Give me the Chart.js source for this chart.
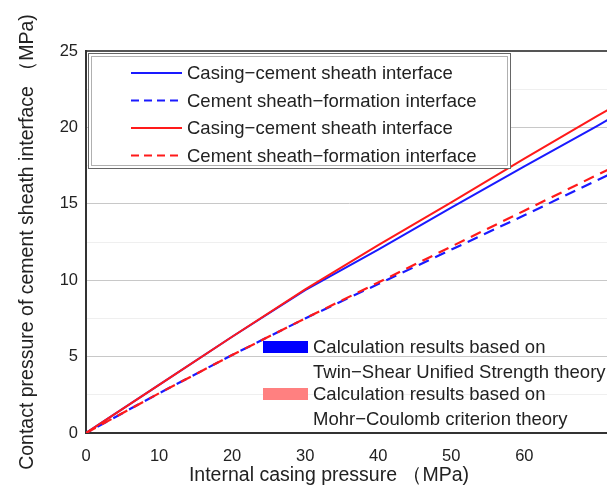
<!DOCTYPE html>
<html>
<head>
<meta charset="utf-8">
<script src="https://cdn.jsdelivr.net/npm/chart.js@4/dist/chart.umd.min.js"></script>
<style>
  html, body { margin: 0; padding: 0; background: #fff; overflow: hidden; }
  #wrap { position: relative; width: 620px; height: 488px; }
</style>
</head>
<body>
<div id="wrap"><canvas id="pressureChart"></canvas></div>
<script>
// internal casing pressure (MPa)
const pressure = [0, 10, 20, 30, 40, 50, 60, 70, 72];
// twin-shear unified strength theory (blue)
const twinCasingCement = [0, 3.15, 6.3, 9.35, 12.0, 14.75, 17.45, 20.1, 20.65];
const twinCementFormation = [0, 2.6, 5.1, 7.5, 9.75, 12.0, 14.25, 16.55, 17.0];
// mohr-coulomb criterion theory (red)
const mcCasingCement = [0, 3.15, 6.3, 9.4, 12.3, 15.1, 17.95, 20.75, 21.3];
const mcCementFormation = [0, 2.6, 5.1, 7.5, 9.85, 12.2, 14.55, 16.9, 17.35];

const yTicks = [0, 5, 10, 15, 20, 25];

const lineLabels = ['Casing\u2212cement sheath interface', 'Cement sheath\u2212formation interface'];
const theoryLabels = [
  ['Calculation results based on', 'Twin\u2212Shear Unified Strength theory'],
  ['Calculation results based on', 'Mohr\u2212Coulomb criterion theory']
];

const BLUE = '#1a1aff';
const RED = '#ff1a1a';
const FONT = '"Liberation Sans", Arial, sans-serif';

function toPoints(ys) {
  return pressure.map((x, i) => ({ x: x, y: ys[i] }));
}

// legends + x title drawn on top
const legendPlugin = {
  id: 'customLegend',
  afterDraw(chart) {
    const ctx = chart.ctx;
    const area = chart.chartArea;
    ctx.save();

    // upper box legend
    const bx = area.left + 2, by = area.top + 2, bw = 422, bh = 115;
    ctx.fillStyle = '#fff';
    ctx.fillRect(bx, by, bw, bh);
    ctx.strokeStyle = '#666';
    ctx.lineWidth = 1;
    ctx.strokeRect(bx + 0.5, by + 0.5, bw, bh);
    ctx.strokeStyle = '#b0b0b0';
    ctx.strokeRect(bx + 3.5, by + 3.5, bw - 6, bh - 6);

    const rows = [
      { color: BLUE, dash: [], text: lineLabels[0] },
      { color: BLUE, dash: [8, 5], text: lineLabels[1] },
      { color: RED, dash: [], text: lineLabels[0] },
      { color: RED, dash: [8, 5], text: lineLabels[1] }
    ];
    ctx.font = '18.5px ' + FONT;
    ctx.textBaseline = 'middle';
    ctx.textAlign = 'left';
    rows.forEach((r, i) => {
      const y = by + 20 + i * 27.5;
      ctx.strokeStyle = r.color;
      ctx.lineWidth = 2;
      ctx.setLineDash(r.dash);
      ctx.beginPath();
      ctx.moveTo(bx + 43, y);
      ctx.lineTo(bx + 94, y);
      ctx.stroke();
      ctx.setLineDash([]);
      ctx.fillStyle = '#222';
      ctx.fillText(r.text, bx + 99, y + 1);
    });

    // lower theory legend
    const colors = ['#0000ff', '#ff8080'];
    const lx = area.left + 177;
    theoryLabels.forEach((lines, i) => {
      const top = area.top + 290 + i * 47;
      ctx.fillStyle = colors[i];
      ctx.fillRect(lx, top, 45, 12);
      ctx.fillStyle = '#222';
      ctx.fillText(lines[0], lx + 50, top + 7);
      ctx.fillText(lines[1], lx + 50, top + 32);
    });

    // x axis title
    ctx.font = '19.5px ' + FONT;
    ctx.textAlign = 'center';
    ctx.fillStyle = '#222';
    ctx.fillText('Internal casing pressure \uFF08MPa)', area.left + 243, 476);
    ctx.restore();
  }
};

const ctx = document.getElementById('pressureChart').getContext('2d');

const contactChart = new Chart(ctx, {
  type: 'line',
  data: {
    datasets: [
      { data: toPoints(mcCasingCement), borderColor: RED, borderWidth: 2, order: 1 },
      { data: toPoints(mcCementFormation), borderColor: RED, borderWidth: 2.2, borderDash: [11, 7], order: 2 },
      { data: toPoints(twinCasingCement), borderColor: BLUE, borderWidth: 2, order: 3 },
      { data: toPoints(twinCementFormation), borderColor: BLUE, borderWidth: 2.2, borderDash: [11, 7], borderDashOffset: 5, order: 4 }
    ]
  },
  options: {
    responsive: true,
    maintainAspectRatio: false,
    animation: false,
    layout: { padding: { top: 51, left: 0, right: 8, bottom: 0 } },
    elements: {
      point: { radius: 0 },
      line: { tension: 0, fill: false }
    },
    scales: {
      x: {
        type: 'linear',
        min: 0,
        max: 72,
        afterFit: (scale) => { scale.height = 55; },
        grid: { display: false },
        border: { display: true, color: '#333', width: 2 },
        ticks: {
          stepSize: 10,
          includeBounds: false,
          padding: 6,
          color: '#222',
          font: { family: FONT, size: 16.5 },
          maxRotation: 0,
          callback: (v) => (v < 70 ? v : '')
        }
      },
      y: {
        min: 0,
        max: 25,
        afterFit: (scale) => { scale.width = 86; },
        grid: {
          drawTicks: false,
          color: (c) => {
            const v = c.tick.value;
            if (v === 25) return '#555';
            if (yTicks.includes(v)) return '#c8c8c8';
            return '#efefef';
          },
          lineWidth: (c) => (c.tick.value === 25 ? 2 : 1)
        },
        border: { color: '#333', width: 2 },
        ticks: {
          stepSize: 2.5,
          padding: 8,
          color: '#222',
          font: { family: FONT, size: 16.5 },
          callback: (v) => (yTicks.includes(v) ? v : '')
        },
        title: {
          display: true,
          text: 'Contact pressure of cement sheath interface \uFF08MPa)',
          color: '#222',
          font: { family: FONT, size: 19.5 },
          padding: { top: 16, bottom: 0 }
        }
      }
    },
    plugins: {
      legend: { display: false },
      tooltip: { enabled: false }
    }
  },
  plugins: [legendPlugin]
});
</script>
</body>
</html>
